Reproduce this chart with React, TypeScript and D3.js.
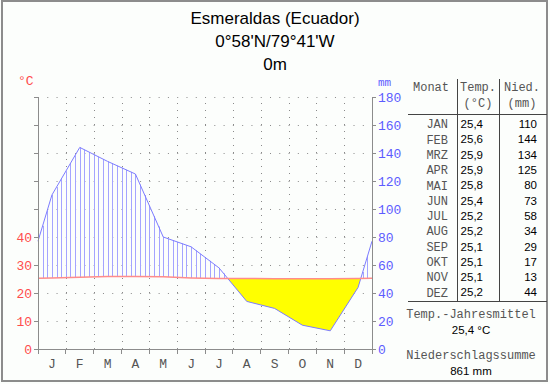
import React from 'react';
import * as d3 from 'd3';

// climate data, Esmeraldas (Ecuador)
const monthLetters = ['J', 'F', 'M', 'A', 'M', 'J', 'J', 'A', 'S', 'O', 'N', 'D'];
const monthNames = ['JAN', 'FEB', 'MRZ', 'APR', 'MAI', 'JUN', 'JUL', 'AUG', 'SEP', 'OKT', 'NOV', 'DEZ'];
const temps = [25.4, 25.6, 25.9, 25.9, 25.8, 25.4, 25.2, 25.2, 25.1, 25.1, 25.1, 25.2];
const precip = [110, 144, 134, 125, 80, 73, 58, 34, 29, 17, 13, 44];
const tempTicks = [0, 10, 20, 30, 40];
const precipTicks = [0, 20, 40, 60, 80, 100, 120, 140, 160, 180];
const titleLines = ['Esmeraldas (Ecuador)', "0°58'N/79°41'W", '0m'];
const meanTempLabel = '25,4 °C';
const sumPrecipLabel = '861 mm';

const W = 550;
const H = 384;
const MONO = '"Liberation Mono", "DejaVu Sans Mono", monospace';
const SANS = '"Liberation Sans", Arial, sans-serif';
const MONO_COL = '#555';

const fmt = (v: number) => v.toFixed(1).replace('.', ',');

const App = () => {
    const x = d3.scaleLinear().domain([0, 12]).range([38, 372]);
    const y = d3.scaleLinear().domain([0, 180]).range([349, 97]);
    // 10 °C = 20 mm
    const yT = d3.scaleLinear().domain([0, 90]).range([349, 97]);

    // curve points at month centres, closed at both edges with the Dec/Jan mean
    const edge = { m: 0, t: (temps[11] + temps[0]) / 2, p: (precip[11] + precip[0]) / 2 };
    const pts = [
        edge,
        ...temps.map((t, i) => ({ m: i + 0.5, t, p: precip[i] })),
        { ...edge, m: 12 },
    ];

    const tAt = d3.scaleLinear().domain(pts.map((d) => d.m)).range(pts.map((d) => d.t));
    const pAt = d3.scaleLinear().domain(pts.map((d) => d.m)).range(pts.map((d) => d.p));

    const tempLine = d3.line<any>().x((d) => x(d.m)).y((d) => yT(d.t))(pts) || '';
    const precLine = d3.line<any>().x((d) => x(d.m)).y((d) => y(d.p))(pts) || '';
    const dryArea = d3.area<any>().x((d) => x(d.m)).y0((d) => yT(d.t)).y1((d) => y(d.p))(pts) || '';
    const belowTemp = d3.area<any>().x((d) => x(d.m)).y0((d) => yT(d.t)).y1(y(0))(pts) || '';

    // vertical hatching in the humid part, 6 per month
    const hatches = d3.range(0, 73).map((k) => k / 6)
        .filter((m) => pAt(m) > 2 * tAt(m))
        .map((m) => ({ x: x(m), y1: yT(tAt(m)), y2: y(pAt(m)) }));

    const rowY = (i: number) => 124 + i * 15.3;

    return (
        <svg width={W} height={H} style={{ position: 'absolute', left: 0, top: 0 }}>
            <defs>
                <clipPath id="belowTemp">
                    <path d={belowTemp} />
                </clipPath>
            </defs>
            <rect x={0} y={0} width={W} height={H} fill="#fcfefc" />
            <rect x={2} y={1} width={545} height={380} fill="none" stroke="#8c8c8c" strokeWidth={2} />

            {/* title */}
            {titleLines.map((t, i) => (
                <text key={t} x={275} y={18 + i * 23} dy="0.36em" textAnchor="middle"
                    fontFamily={SANS} fontSize={17} fill="#000">{t}</text>
            ))}

            {/* grid */}
            {precipTicks.filter((v) => v > 0).map((v) => (
                <line key={`h${v}`} x1={x(0)} x2={x(12)} y1={Math.round(y(v)) + 0.5} y2={Math.round(y(v)) + 0.5}
                    stroke="#8a8a8a" strokeDasharray="1 8.28" />
            ))}
            {d3.range(1, 12).map((m) => (
                <line key={`v${m}`} x1={Math.round(x(m)) + 0.5} x2={Math.round(x(m)) + 0.5} y1={y(0)} y2={y(180)}
                    stroke="#8a8a8a" strokeDasharray="1 6" />
            ))}

            {/* dry season */}
            <path d={dryArea} fill="#ffff00" clipPath="url(#belowTemp)" />

            {/* humid season hatching */}
            {hatches.map((h, i) => (
                <line key={`x${i}`} x1={Math.round(h.x) + 0.5} x2={Math.round(h.x) + 0.5} y1={h.y1} y2={h.y2}
                    stroke="#a4a4ff" strokeWidth={1} />
            ))}

            <path d={precLine} fill="none" stroke="#7c7cff" strokeWidth={1} />
            <path d={tempLine} fill="none" stroke="#ff8c8c" strokeWidth={1.5} />

            {/* axes */}
            <g stroke="#8c8c8c" shapeRendering="crispEdges">
                <line x1={x(0)} x2={x(0)} y1={y(0)} y2={y(180)} />
                <line x1={x(12)} x2={x(12)} y1={y(0)} y2={y(180)} />
                <line x1={x(0)} x2={x(12)} y1={y(0)} y2={y(0)} />
                {precipTicks.map((v) => (
                    <line key={`rt${v}`} x1={x(12)} x2={x(12) + 4} y1={y(v)} y2={y(v)} />
                ))}
                {precipTicks.map((v) => (
                    <line key={`lt${v}`} x1={x(0) - 4} x2={x(0)} y1={y(v)} y2={y(v)} />
                ))}
                {d3.range(0, 13).map((m) => (
                    <line key={`bt${m}`} x1={x(m)} x2={x(m)} y1={y(0)} y2={y(0) + 5} />
                ))}
            </g>

            {tempTicks.map((v) => (
                <text key={`tl${v}`} x={32} y={yT(v)} dy="0.36em" textAnchor="end"
                    fontFamily={MONO} fontSize={13} fill="#ff4c4c">{v}</text>
            ))}
            <text x={18} y={80} dy="0.36em" fontFamily={MONO} fontSize={13} fill="#ff4c4c">°C</text>

            {precipTicks.map((v) => (
                <text key={`pl${v}`} x={378} y={y(v)} dy="0.36em"
                    fontFamily={MONO} fontSize={13} fill="#5c5cff">{v}</text>
            ))}
            <text x={378} y={82} dy="0.36em" fontFamily={MONO} fontSize={11} fill="#5c5cff">mm</text>

            {monthLetters.map((l, i) => (
                <text key={`m${i}`} x={x(i + 0.5)} y={363} dy="0.36em" textAnchor="middle"
                    fontFamily={MONO} fontSize={13} fill={MONO_COL}>{l}</text>
            ))}

            {/* table */}
            <g stroke="#444" shapeRendering="crispEdges">
                <line x1={408} x2={547} y1={114} y2={114} />
                <line x1={408} x2={547} y1={301} y2={301} />
                <line x1={457} x2={457} y1={79} y2={301} />
                <line x1={499} x2={499} y1={79} y2={301} />
            </g>
            <text x={413} y={87} dy="0.36em" fontFamily={MONO} fontSize={12} fill={MONO_COL}>Monat</text>
            <text x={478} y={87} dy="0.36em" textAnchor="middle" fontFamily={MONO} fontSize={12} fill={MONO_COL}>Temp.</text>
            <text x={478} y={103} dy="0.36em" textAnchor="middle" fontFamily={MONO} fontSize={12} fill={MONO_COL}>(°C)</text>
            <text x={522} y={87} dy="0.36em" textAnchor="middle" fontFamily={MONO} fontSize={12} fill={MONO_COL}>Nied.</text>
            <text x={522} y={103} dy="0.36em" textAnchor="middle" fontFamily={MONO} fontSize={12} fill={MONO_COL}>(mm)</text>
            {monthNames.map((n, i) => (
                <g key={n}>
                    <text x={448} y={rowY(i)} dy="0.36em" textAnchor="end" fontFamily={MONO} fontSize={12} fill={MONO_COL}>{n}</text>
                    <text x={483} y={rowY(i)} dy="0.36em" textAnchor="end" fontFamily={SANS} fontSize={11.5} fill="#000">{fmt(temps[i])}</text>
                    <text x={537} y={rowY(i)} dy="0.36em" textAnchor="end" fontFamily={SANS} fontSize={11.5} fill="#000">{precip[i]}</text>
                </g>
            ))}
            <text x={471} y={314} dy="0.36em" textAnchor="middle" fontFamily={MONO} fontSize={12} fill={MONO_COL}>Temp.-Jahresmittel</text>
            <text x={471} y={330} dy="0.36em" textAnchor="middle" fontFamily={SANS} fontSize={11.5} fill="#000">{meanTempLabel}</text>
            <text x={471} y={355} dy="0.36em" textAnchor="middle" fontFamily={MONO} fontSize={12} fill={MONO_COL}>Niederschlagssumme</text>
            <text x={471} y={371} dy="0.36em" textAnchor="middle" fontFamily={SANS} fontSize={11.5} fill="#000">{sumPrecipLabel}</text>
        </svg>
    );
};

export default App;
